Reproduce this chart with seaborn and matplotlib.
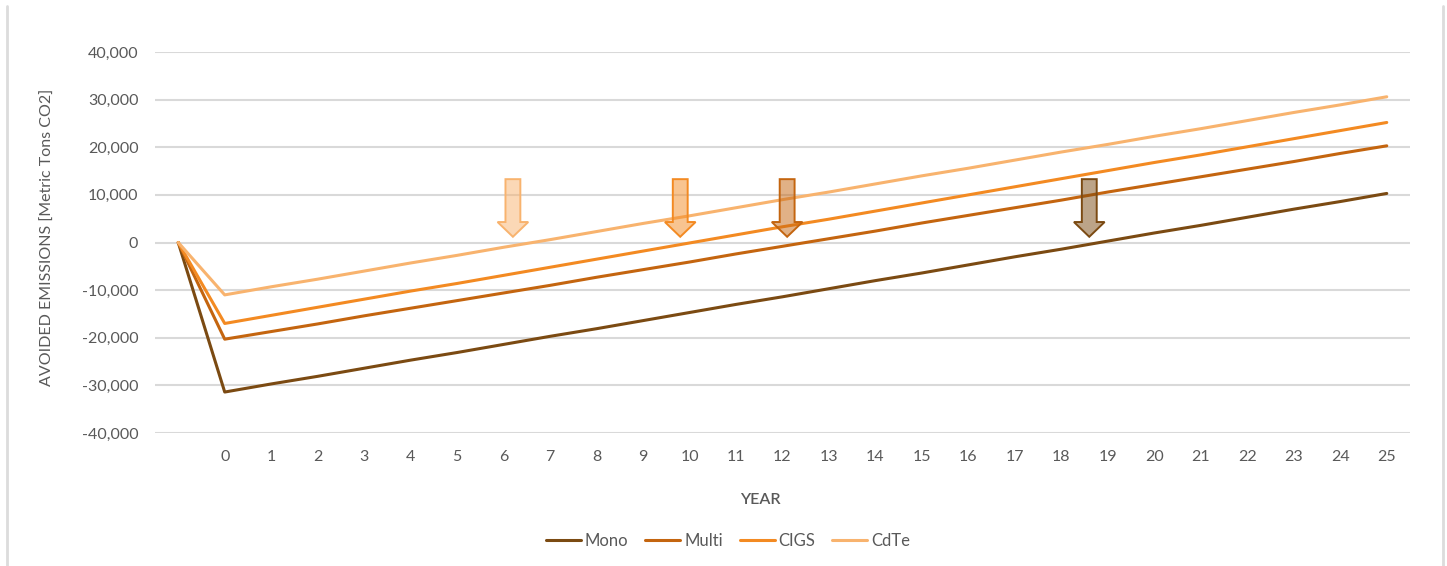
import matplotlib
matplotlib.use("Agg")
import matplotlib.pyplot as plt
from matplotlib.lines import Line2D
from matplotlib.patches import Polygon
from matplotlib.ticker import FuncFormatter
import numpy as np
import pandas as pd
import seaborn as sns

# Cumulative avoided emissions per PV technology (metric tons CO2).
# The first, unlabeled category is the starting point before installation.
categories = [""] + [str(y) for y in range(26)]

mono = [0, -31400, -29700, -28100, -26400, -24700, -23100, -21400, -19700,
        -18100, -16400, -14700, -13000, -11400, -9700, -8000, -6400, -4700,
        -3000, -1400, 300, 2000, 3600, 5300, 7000, 8600, 10300]
multi = [0, -20300, -18700, -17100, -15400, -13800, -12200, -10600, -9000,
         -7300, -5700, -4100, -2400, -800, 800, 2400, 4100, 5700, 7300,
         8900, 10600, 12200, 13800, 15400, 17000, 18700, 20300]
cigs = [0, -17000, -15300, -13600, -11900, -10200, -8600, -6900, -5200,
        -3500, -1800, -100, 1600, 3300, 4900, 6600, 8300, 10000, 11700,
        13400, 15100, 16800, 18400, 20100, 21800, 23500, 25200]
cdte = [0, -11000, -9300, -7700, -6000, -4300, -2700, -1000, 600, 2300,
        4000, 5600, 7300, 9000, 10600, 12300, 14000, 15600, 17300, 19000,
        20600, 22300, 23900, 25600, 27300, 28900, 30600]

series_names = ["Mono", "Multi", "CIGS", "CdTe"]
series_values = [mono, multi, cigs, cdte]
colors = ["#7b4a12", "#c4650f", "#f38a22", "#f8b36e"]

# Break-even year (emissions payback) marked by an arrow for each technology
breakeven_years = {"CdTe": 6.2, "CIGS": 9.8, "Multi": 12.1, "Mono": 18.6}

y_ticks = [-40000, -30000, -20000, -10000, 0, 10000, 20000, 30000, 40000]

sns.set_theme(style="white")
plt.rcParams["font.family"] = ["Lato", "DejaVu Sans"]

text_color = "#595959"
grid_color = "#d9d9d9"

rows = []
for name, vals in zip(series_names, series_values):
    for pos, v in enumerate(vals):
        rows.append({"pos": pos - 1, "series": name, "value": v})
df = pd.DataFrame(rows)

fig = plt.figure(figsize=(14.47, 5.66), dpi=100)
ax = fig.add_axes([155 / 1447, 1 - 433 / 566, 1255 / 1447, 381 / 566])

palette = dict(zip(series_names, colors))
sns.lineplot(data=df, x="pos", y="value", hue="series", hue_order=series_names,
             palette=palette, linewidth=2.2, ax=ax, legend=False, zorder=3)

# Break-even arrows
arrow_top, head_base, arrow_tip = 13300, 4300, 1200
shaft_hw, head_hw = 0.16, 0.33
for name in ["CdTe", "CIGS", "Multi", "Mono"]:
    x0 = breakeven_years[name]
    c = palette[name]
    pts = [(x0 - shaft_hw, arrow_top), (x0 + shaft_hw, arrow_top),
           (x0 + shaft_hw, head_base), (x0 + head_hw, head_base),
           (x0, arrow_tip), (x0 - head_hw, head_base),
           (x0 - shaft_hw, head_base)]
    fill = matplotlib.colors.to_rgba(c, 0.5)
    ax.add_patch(Polygon(pts, closed=True, facecolor=fill, edgecolor=c,
                         linewidth=1.4, zorder=4))

ax.set_xlim(-1.5, 25.5)
ax.set_ylim(-40000, 40000)
ax.set_xticks(range(0, 26))
ax.set_xticklabels(categories[1:])
ax.set_yticks(y_ticks)
ax.yaxis.set_major_formatter(FuncFormatter(lambda v, p: f"{int(v):,}"))
ax.grid(axis="y", color=grid_color, linewidth=1.5, zorder=0)
ax.grid(axis="x", visible=False)
for s in ax.spines.values():
    s.set_visible(False)
ax.tick_params(axis="both", length=0, labelsize=11.5, labelcolor=text_color)
ax.tick_params(axis="y", pad=12)
ax.tick_params(axis="x", pad=12)

ax.set_xlabel("YEAR", fontsize=11.5, color=text_color, fontweight="semibold",
              va="center")
ax.xaxis.set_label_coords((760 - 155) / 1255, -(500 - 433) / 381)
ax.set_ylabel("AVOIDED EMISSIONS [Metric Tons CO2]", fontsize=11.5,
              color=text_color, va="center")
ax.yaxis.set_label_coords((48 - 155) / 1255, (433 - 237) / 381)

handles = [Line2D([], [], color=c, linewidth=2.2) for c in colors]
fig.legend(handles, series_names, loc="center",
           bbox_to_anchor=(728 / 1447, 1 - 541 / 566), ncol=4, frameon=False,
           fontsize=12, handlelength=2.1, handletextpad=0.25,
           columnspacing=1.0, labelcolor=text_color)

# Light side borders of the chart area
for xp in (7, 1443):
    fig.add_artist(Line2D([xp / 1447, xp / 1447], [0, 1 - 6 / 566],
                          color="#dcdcdc", linewidth=2,
                          transform=fig.transFigure))

fig.savefig("out.png", dpi=100, facecolor="white")
